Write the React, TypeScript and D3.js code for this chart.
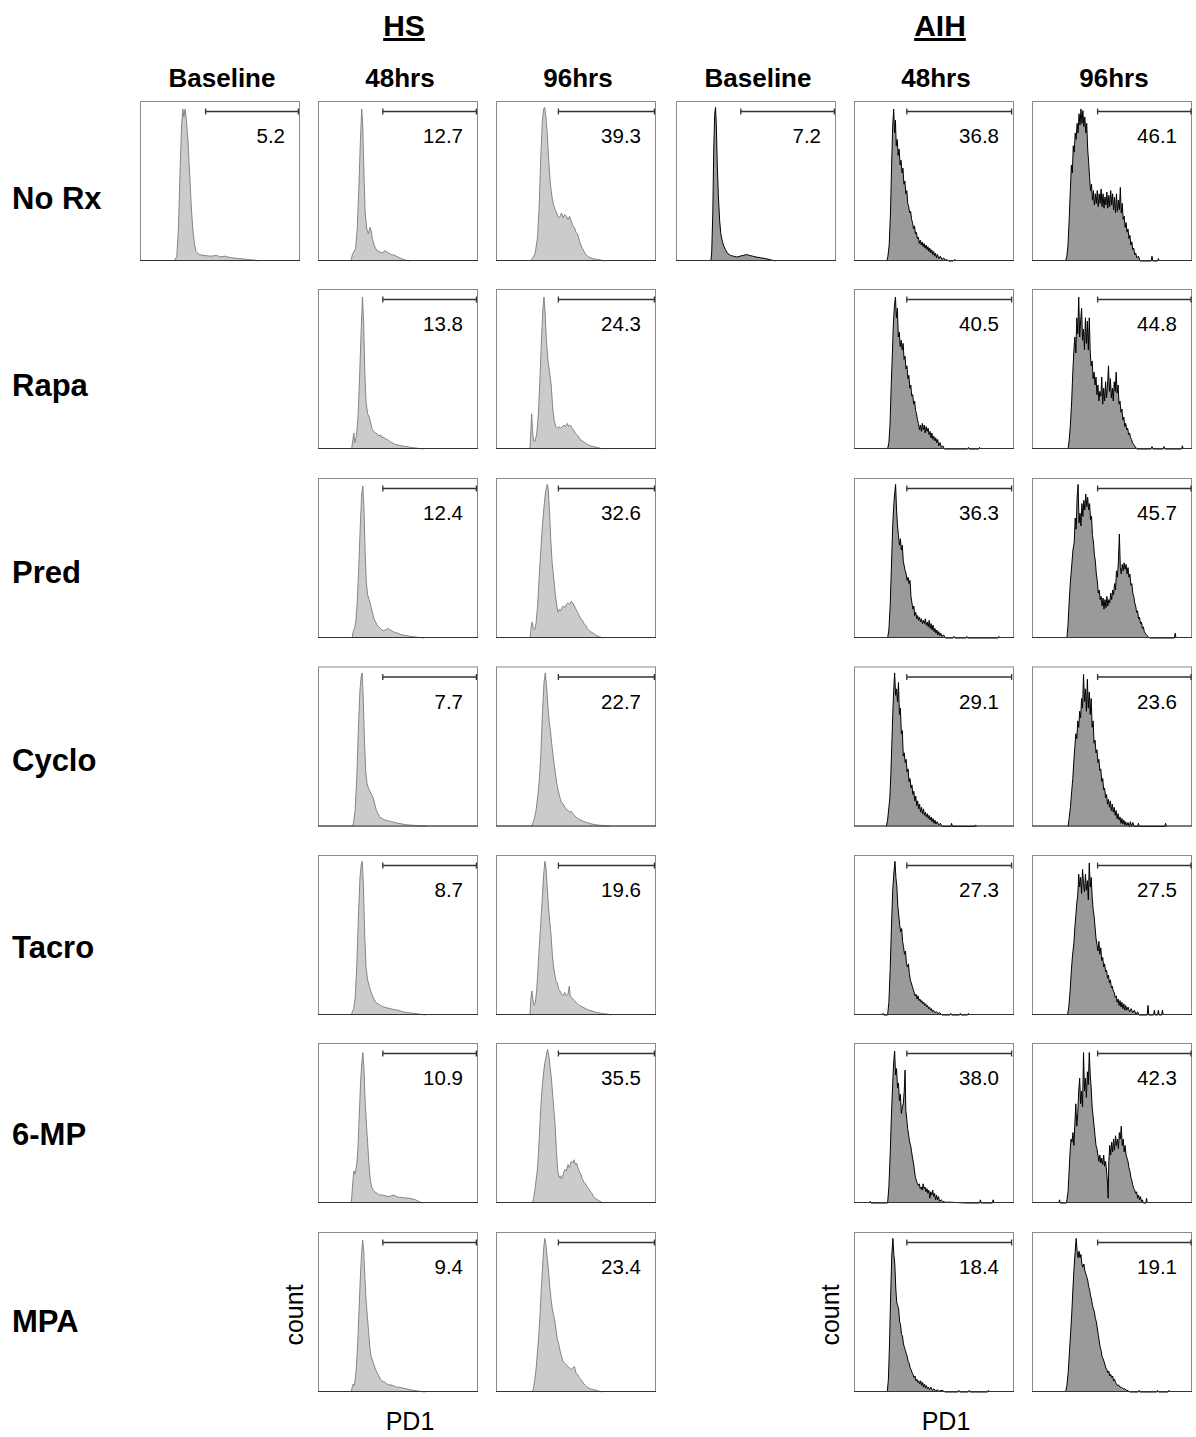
import React from 'react';
import * as d3 from 'd3';

type Pt = [number, number];

// ---- labels ----
const groupLabels = ['HS', 'AIH'];
const timeLabels = ['Baseline', '48hrs', '96hrs'];
const treatmentLabels = ['No Rx', 'Rapa', 'Pred', 'Cyclo', 'Tacro', '6-MP', 'MPA'];

// gate limits on the PD1 axis (0-100 of panel width), per column
const gateLo = [41, 40.5, 39, 40.5, 33, 41];
const gateHi = [99, 99, 99, 99, 98.5, 99.4];

// % PD1+ per treatment row; columns HS base/48/96, AIH base/48/96
const pctPositive: (string | null)[][] = [
  ['5.2', '12.7', '39.3', '7.2', '36.8', '46.1'],
  [null, '13.8', '24.3', null, '40.5', '44.8'],
  [null, '12.4', '32.6', null, '36.3', '45.7'],
  [null, '7.7', '22.7', null, '29.1', '23.6'],
  [null, '8.7', '19.6', null, '27.3', '27.5'],
  [null, '10.9', '35.5', null, '38.0', '42.3'],
  [null, '9.4', '23.4', null, '18.4', '19.1'],
];

// ---- histogram traces, [PD1 %, count %] ----
const hsBase: Pt[] = [[21.5,0],[23,3],[24,20],[25,55],[26,85],[26.8,95],[27.4,90],[28.2,95],[29,88],[30,75],[31,55],[32,35],[33,20],[34,11],[35,6],[37,4],[40,3.5],[44,3],[48,3.5],[50,2.5],[53,3],[57,2],[62,1.5],[67,1],[72,0.5],[74,0]];
const hs48NoRx: Pt[] = [[20.5,0],[21.5,4],[22.5,6],[23.5,8],[24.5,20],[25.5,45],[26.5,75],[27.3,95],[28,85],[28.7,55],[29.5,30],[30.5,20],[31.5,17],[32.5,21],[33.2,19],[34,14],[35,10],[36.5,7],[38,6],[40,5],[42,6.5],[44,5],[46,4],[48,3.5],[50,2.5],[52,1.5],[54,0.8],[56,0.3],[57,0]];
const hs96NoRx: Pt[] = [[21.5,0],[23,2],[24.5,5],[26,15],[27,35],[28,65],[29,88],[29.8,95],[30.5,96],[31.2,90],[32,80],[33,62],[34,48],[35,40],[36,35],[37,32],[38,30],[39,27],[40,28],[41,30],[42,27],[43,29],[44,28],[45,26],[46,28],[47,25],[48,22],[49,21],[50,18],[51,17],[52,13],[53,10],[54,8],[55,6],[56,4],[58,2.5],[60,1.5],[63,1],[66,0.5],[68,0]];
const aihBase: Pt[] = [[21.8,0],[22.3,5],[23,30],[23.6,70],[24.2,92],[24.7,96],[25.2,85],[25.8,60],[26.5,40],[27.3,25],[28,17],[29,12],[30,9],[31,7],[32,5],[34,3.5],[36,3],[38,2.5],[40,3],[42,3.5],[44,4],[46,3.5],[48,3],[50,2.5],[53,2],[56,1.5],[59,0.8],[61,0.3],[62,0]];
const aih48NoRx: Pt[] = [[20.5,0],[21.2,3],[22,10],[22.8,30],[23.5,60],[24.2,85],[24.8,95],[25.4,80],[25.9,88],[26.4,72],[27,76],[27.6,66],[28.2,70],[28.8,60],[29.4,63],[30,55],[30.6,58],[31.2,48],[31.8,50],[32.4,42],[33,44],[33.6,36],[34.2,34],[34.8,30],[35.4,31],[36,26],[36.6,24],[37.2,20],[37.8,22],[38.4,17],[39,18],[39.6,14],[40.2,15],[40.8,11],[41.4,13],[42,10],[42.6,12],[43.2,9],[43.8,11],[44.4,8],[45,10],[45.6,7],[46.2,9],[46.8,6],[47.4,8],[48,5],[48.6,7],[49.2,4],[49.8,6],[50.4,3],[51,5],[51.6,2],[52.2,4],[53,1.5],[54,3],[55,1],[56,2],[57,0.5],[58,1],[59,0],[62,0],[63,1],[64,0]];
const aih96NoRx: Pt[] = [[21,0],[21.8,3],[22.5,10],[23.2,25],[24,45],[24.6,60],[25.2,55],[25.8,72],[26.4,68],[27,80],[27.6,76],[28.2,86],[28.8,80],[29.4,92],[30,85],[30.6,95],[31.2,86],[31.8,94],[32.4,84],[33,90],[33.6,80],[34.2,86],[34.8,70],[35.4,62],[36,52],[36.6,44],[37.2,48],[37.8,38],[38.4,44],[39,35],[39.6,42],[40.2,36],[40.8,44],[41.4,34],[42,42],[42.6,36],[43.2,45],[43.8,34],[44.4,42],[45,33],[45.6,40],[46.2,35],[46.8,43],[47.4,33],[48,41],[48.6,34],[49.2,44],[49.8,35],[50.4,42],[51,32],[51.6,40],[52.2,30],[52.8,42],[53.4,31],[54,38],[54.6,32],[55.2,46],[55.8,30],[56.4,36],[57,26],[57.6,28],[58.2,21],[58.8,24],[59.4,18],[60,20],[60.6,14],[61.2,16],[61.8,10],[62.4,12],[63,7],[63.6,8],[64.2,4],[64.8,5],[65.5,2],[66.5,3],[67.5,0],[74.5,0],[75,3],[75.5,0],[78.5,0],[79,1.5],[79.5,0]];

const hs48Rapa: Pt[] = [[21,0],[21.8,6],[22.4,10],[23,4],[24,8],[25,20],[26,45],[27,75],[27.8,95],[28.5,80],[29.2,50],[30,30],[31,22],[32,20],[33,16],[34,12],[35,11],[36,10],[37,9.5],[38,8],[39,9],[40,7],[41,7.5],[42,6.5],[43,6],[44,5.5],[45,4.5],[46,4],[48,3],[50,2.5],[52,2],[55,1.5],[58,1],[62,0.5],[66,0]];
const hs96Rapa: Pt[] = [[21.2,0],[21.8,12],[22.3,22],[22.8,12],[23.5,5],[24.5,5],[25.5,10],[26.5,22],[27.5,45],[28.5,70],[29.3,88],[30,95],[30.7,85],[31.5,68],[32.5,55],[33.5,48],[34.5,40],[35.5,25],[36.5,17],[37.5,14],[38.5,13],[39.5,14],[40.5,13],[41.5,14],[42.5,15],[43.5,14],[44.5,16],[45.5,14],[46.5,15],[47.5,13],[48.5,12],[49.5,10],[50.5,9],[51.5,8],[52.5,6],[54,5],[55.5,4],[57,3],[59,2],[61,1.5],[64,0.8],[67,0]];
const aih48Rapa: Pt[] = [[21,0],[21.8,4],[22.5,15],[23.2,38],[24,60],[24.6,78],[25.3,90],[25.9,95],[26.5,82],[27.1,88],[27.7,70],[28.3,73],[28.9,64],[29.5,68],[30.1,62],[30.7,66],[31.3,56],[31.9,58],[32.5,50],[33.1,52],[33.7,44],[34.3,46],[34.9,38],[35.5,40],[36.1,33],[36.7,34],[37.3,28],[37.9,30],[38.5,24],[39.1,22],[39.7,18],[40.3,16],[40.9,12],[41.5,15],[42.1,11],[42.7,16],[43.3,12],[43.9,15],[44.5,10],[45.1,14],[45.7,11],[46.3,13],[46.9,9],[47.5,11],[48.1,7],[48.7,10],[49.3,6],[49.9,8],[50.5,5],[51.1,7],[51.7,4],[52.3,6],[53,2],[53.8,4],[54.6,1],[55.5,2],[56.5,0],[71,0],[71.5,1],[72,0],[78,0],[78.5,1],[79,0]];
const aih96Rapa: Pt[] = [[22.5,0],[23.2,5],[24,15],[24.8,30],[25.5,48],[26.2,62],[26.8,70],[27.4,60],[28,82],[28.6,72],[29.2,95],[29.8,70],[30.4,80],[31,88],[31.6,68],[32.2,75],[32.8,62],[33.4,82],[34,66],[34.6,80],[35.2,62],[35.8,82],[36.4,60],[37,52],[37.6,55],[38.2,44],[38.8,48],[39.4,40],[40,45],[40.6,34],[41.2,40],[41.8,30],[42.4,36],[43,33],[43.6,45],[44.2,28],[44.8,38],[45.4,30],[46,42],[46.6,32],[47.2,40],[47.8,52],[48.4,36],[49,44],[49.6,32],[50.2,38],[50.8,30],[51.4,42],[52,36],[52.6,48],[53.2,35],[53.8,40],[54.4,28],[55,30],[55.6,23],[56.2,25],[56.8,18],[57.4,20],[58,14],[58.6,16],[59.2,12],[59.8,13],[60.4,9],[61,10],[61.6,7],[62.2,6],[62.8,4],[63.4,3],[64.5,1.5],[65.5,0],[74.5,0],[75,1.5],[75.5,0],[82,0],[82.5,1.5],[83,0],[93.5,0],[94,2],[94.5,0]];

const hs48Pred: Pt[] = [[21.3,0],[22,4],[22.8,6],[23.6,10],[24.5,22],[25.5,45],[26.5,72],[27.3,90],[28,95],[28.7,82],[29.4,55],[30.2,35],[31,27],[32,24],[33,20],[34,16],[35,12],[36,10],[37,8],[38,7],[39,6],[40,5],[41,4.5],[42,5],[43,5.5],[44,6],[45,5],[46,4.5],[47,4],[48,3.5],[50,3],[52,2],[55,1.5],[58,1],[62,0.5],[66,0]];
const hs96Pred: Pt[] = [[21.3,0],[22,7],[22.6,10],[23.3,6],[24.2,5],[25,9],[26,20],[27,38],[28,55],[29,70],[30,82],[30.8,90],[31.5,94],[32,96],[32.7,93],[33.4,80],[34.2,62],[35,48],[36,38],[37,28],[38,20],[38.8,16],[39.6,18],[40.4,17],[41.2,19],[42,20],[43,19],[44,21],[45,22],[46,21],[47,23],[48,22],[49,20],[50,18],[51,16],[52,14],[53,12],[54,11],[55,9],[56,8],[57,6],[58,5],[59,4],[60,3.5],[62,2],[64,1],[67,0]];
const aih48Pred: Pt[] = [[21,0],[21.8,5],[22.6,20],[23.4,45],[24.2,70],[24.8,82],[25.4,90],[26,96],[26.6,80],[27.2,70],[27.8,64],[28.4,58],[29,62],[29.6,55],[30.2,58],[30.8,48],[31.4,45],[32,42],[32.6,40],[33.2,36],[33.8,38],[34.4,34],[35,36],[35.6,26],[36.2,22],[36.8,18],[37.4,20],[38,14],[38.6,16],[39.2,12],[39.8,14],[40.4,11],[41,13],[41.6,10],[42.2,12],[42.8,9],[43.4,11],[44,9],[44.6,12],[45.2,8],[45.8,10],[46.4,7],[47,11],[47.6,6],[48.2,9],[48.8,5],[49.4,8],[50,4],[50.6,6],[51.2,3],[51.8,5],[52.4,2],[53,4],[53.6,1.5],[54.2,3],[55,1],[56,2],[57,0],[62,0],[62.5,1],[63,0],[70,0],[70.5,1],[71,0],[90,0],[90.5,1],[91,0]];
const aih96Pred: Pt[] = [[21.8,0],[22.5,8],[23.2,22],[24,35],[24.8,45],[25.6,55],[26.4,60],[27,75],[27.6,68],[28.2,88],[28.8,96],[29.4,72],[30,78],[30.6,70],[31.2,84],[31.8,76],[32.4,86],[33,80],[33.6,90],[34.2,82],[34.8,88],[35.4,80],[36,84],[36.6,74],[37.2,76],[37.8,64],[38.4,60],[39,52],[39.6,48],[40.2,40],[40.8,36],[41.4,28],[42,30],[42.6,24],[43.2,26],[43.8,20],[44.4,25],[45,18],[45.6,24],[46.2,19],[46.8,26],[47.4,20],[48,24],[48.6,22],[49.2,28],[49.8,24],[50.4,30],[51,27],[51.6,34],[52.2,30],[52.8,42],[53.4,38],[54,48],[54.6,65],[55.2,44],[55.8,40],[56.4,46],[57,42],[57.6,47],[58.2,43],[58.8,46],[59.4,40],[60,44],[60.6,38],[61.2,40],[61.8,33],[62.4,34],[63,28],[63.6,26],[64.2,22],[64.8,20],[65.4,16],[66,17],[66.6,12],[67.2,13],[67.8,9],[68.4,10],[69,6],[69.6,7],[70.2,4],[70.8,3],[71.5,2],[72.5,1],[73.5,0],[89,0],[89.5,3],[90,0]];

const hs48Cyclo: Pt[] = [[21.5,0],[22.3,3],[23.2,10],[24.2,30],[25.2,60],[26.2,85],[27,94],[27.6,96],[28.3,80],[29,55],[29.8,35],[30.6,27],[31.5,24],[32.5,22],[33.5,20],[34.5,18],[35.5,14],[36.5,10],[37.5,8],[38.5,6],[40,5],[42,4],[44,3.5],[46,3],[48,2.5],[50,2],[53,1.5],[56,1],[60,0.7],[65,0.3],[68,0]];
const hs96Cyclo: Pt[] = [[22.3,0],[23,2],[24,5],[25,10],[26,18],[27,28],[28,45],[29,70],[30,90],[30.8,96],[31.6,88],[32.4,76],[33.2,66],[34,60],[34.8,52],[35.5,46],[36.2,40],[37,34],[38,27],[39,22],[40,18],[41,15],[42,14],[43,12],[44,11],[45,10],[46,9],[47,9.5],[48,8],[49,7],[50,6],[51,5],[52,4.5],[53,4],[55,3],[57,2.5],[60,1.5],[63,1],[67,0.5],[71,0]];
const aih48Cyclo: Pt[] = [[20.2,0],[21,4],[21.8,12],[22.4,18],[23,32],[23.6,50],[24.2,70],[24.8,85],[25.4,96],[26,82],[26.6,86],[27.2,78],[27.8,90],[28.4,70],[29,74],[29.6,58],[30.2,60],[30.8,44],[31.4,46],[32,40],[32.6,42],[33.2,34],[33.8,36],[34.4,28],[35,30],[35.6,24],[36.2,26],[36.8,20],[37.4,22],[38,16],[38.6,19],[39.2,13],[39.8,16],[40.4,11],[41,14],[41.6,9],[42.2,12],[42.8,8],[43.4,11],[44,7],[44.6,9],[45.2,6],[45.8,8],[46.4,5],[47,7],[47.6,4],[48.2,6],[48.8,3],[49.4,5],[50,2],[50.6,4],[51.2,1.5],[52,3],[53,1],[54,2],[55,0],[60.5,0],[61,2],[61.5,0],[75.5,0],[76,1],[76.5,0]];
const aih96Cyclo: Pt[] = [[22.5,0],[23.2,5],[24,12],[24.8,22],[25.5,30],[26.2,42],[26.8,50],[27.4,58],[28,55],[28.6,66],[29.2,62],[29.8,72],[30.4,68],[31,80],[31.6,74],[32.2,95],[32.8,78],[33.4,86],[34,72],[34.6,92],[35.2,74],[35.8,84],[36.4,70],[37,80],[37.6,62],[38.2,66],[38.8,52],[39.4,54],[40,46],[40.6,48],[41.2,40],[41.8,42],[42.4,35],[43,36],[43.6,28],[44.2,30],[44.8,23],[45.4,24],[46,18],[46.6,20],[47.2,14],[47.8,17],[48.4,12],[49,16],[49.6,10],[50.2,14],[50.8,9],[51.4,12],[52,7],[52.6,10],[53.2,5],[53.8,8],[54.4,4],[55,6],[55.6,2],[56.2,5],[56.8,1.5],[57.4,4],[58,1],[58.6,3],[59.2,0.5],[60,2.5],[60.8,0],[61.5,3],[62.2,0],[63,2.5],[63.8,0],[66,0],[66.5,2],[67,0],[83,0],[83.5,2],[84,0]];

const hs48Tacro: Pt[] = [[20.8,0],[21.5,2],[22.3,4],[23.2,10],[24.2,30],[25.2,60],[26.2,85],[27,94],[27.7,96],[28.4,80],[29.2,50],[30,30],[31,22],[32,18],[33,15],[34,12],[35,10],[36,8],[37.5,7],[39,6],[41,5],[43,4.5],[45,4],[47,3.5],[50,3],[53,2],[56,1.5],[60,1],[64,0.5],[67,0]];
const hs96Tacro: Pt[] = [[21.2,0],[21.8,10],[22.4,15],[23,10],[23.8,6],[24.6,8],[25.4,15],[26.2,28],[27,42],[28,58],[29,74],[29.8,88],[30.6,96],[31.3,92],[32,80],[32.8,68],[33.6,58],[34.4,50],[35.2,38],[36,30],[36.8,25],[37.6,21],[38.4,20],[39.2,16],[40,15],[41,13],[42,12],[43,14],[44,12],[45,13],[45.8,18],[46.4,12],[47.2,11],[48,10],[49,9],[50,8],[51,7],[52,6],[53,5.5],[54,5],[56,4],[58,3],[60,2.5],[63,1.5],[66,1],[70,0.5],[72,0]];
const aih48Tacro: Pt[] = [[17.8,0],[18.2,1],[18.6,0],[21,0],[21.8,8],[22.6,28],[23.4,55],[24.2,78],[25,90],[25.6,96],[26.2,86],[26.8,80],[27.4,68],[28,62],[28.6,56],[29.2,52],[29.8,54],[30.4,46],[31,42],[31.6,38],[32.2,40],[32.8,32],[33.4,30],[34,32],[34.6,26],[35.2,22],[35.8,20],[36.4,18],[37,16],[37.6,14],[38.2,12],[38.8,13],[39.4,10],[40,12],[40.6,9],[41.2,10],[41.8,8],[42.4,9],[43,7],[43.6,8],[44.2,6],[44.8,7],[45.4,5],[46,6],[46.6,4],[47.2,5],[47.8,3],[48.4,4],[49,2],[49.6,3],[50.5,1.5],[51.5,2],[52.5,1],[53.5,1.5],[55,0],[60,0],[60.5,1],[61,0],[66,0],[66.5,1],[67,0],[71,0],[71.5,1],[72,0]];
const aih96Tacro: Pt[] = [[22.2,0],[23,5],[23.8,15],[24.6,28],[25.4,38],[26.2,45],[26.8,55],[27.4,62],[28,70],[28.6,75],[29.2,88],[29.8,80],[30.4,86],[31,76],[31.6,91],[32.2,82],[32.8,77],[33.4,88],[34,78],[34.6,84],[35.2,72],[35.8,95],[36.4,80],[37,86],[37.6,74],[38.2,66],[38.8,62],[39.4,55],[40,48],[40.6,44],[41.2,40],[41.8,46],[42.4,38],[43,42],[43.6,34],[44.2,36],[44.8,30],[45.4,32],[46,27],[46.6,28],[47.2,23],[47.8,25],[48.4,20],[49,22],[49.6,17],[50.2,18],[50.8,15],[51.4,14],[52,11],[52.6,12],[53.2,8],[53.8,10],[54.4,6],[55,9],[55.6,5],[56.2,8],[56.8,4],[57.4,7],[58,3],[58.6,6],[59.2,3],[60,5],[61,2],[62,4],[63,1.5],[64,3],[65,0.5],[66,2],[67,0],[72,0],[72.5,6],[73,0],[76,0],[76.5,3],[77,0],[78.5,0],[79,3],[79.5,0],[81,0],[81.5,3],[82,0]];

const hs486MP: Pt[] = [[20.8,0],[21.4,8],[22,16],[22.5,20],[23,18],[23.6,20],[24.3,25],[25,35],[25.8,55],[26.6,75],[27.4,88],[28,94],[28.7,85],[29.4,65],[30.2,50],[31,38],[31.8,25],[32.6,15],[33.5,10],[34.5,8],[35.5,7],[37,6],[38.5,5],[40,5],[42,4.5],[44,4],[46,4.5],[47.5,5],[49,4],[51,3.5],[53,3.5],[55,3],[57,3],[59,2.5],[61,2],[63,1],[65,0]];
const hs966MP: Pt[] = [[22.8,0],[23.5,3],[24.3,8],[25,14],[25.8,20],[26.6,32],[27.4,48],[28.2,63],[29,74],[29.8,82],[30.6,88],[31.4,92],[32.2,96],[33,92],[33.8,85],[34.6,78],[35.4,68],[36.2,58],[37,48],[37.8,32],[38.6,20],[39.4,16],[40.2,17],[41,15],[42,18],[43,21],[44,20],[45,24],[46,22],[47,26],[48,25],[48.8,27],[49.6,24],[50.4,25],[51.2,22],[52,20],[53,18],[54,15],[55,13],[56,12],[57,10],[58,9],[59,7],[60,6],[61,4],[62,3],[63.5,2],[65,1],[67,0]];
const aih486MP: Pt[] = [[9.8,0],[10.2,1],[10.6,0],[21,0],[21.8,10],[22.6,30],[23.4,55],[24.2,75],[24.8,88],[25.4,95],[26,80],[26.6,84],[27.2,72],[27.8,75],[28.4,64],[29,68],[29.6,56],[30.2,60],[30.8,62],[31.4,70],[31.9,83],[32.4,58],[33,52],[33.6,46],[34.2,42],[34.8,38],[35.4,36],[36,32],[36.6,28],[37.2,25],[37.8,20],[38.4,16],[39,14],[39.6,12],[40.2,11],[40.8,12],[41.4,9],[42,10],[42.6,8],[43.2,12],[43.8,9],[44.4,10],[45,7],[45.6,9],[46.2,6],[46.8,8],[47.4,3],[48,7],[48.6,5],[49.2,8],[49.8,4],[50.4,6],[51,2],[51.6,5],[52.2,2],[52.8,4],[53.5,1],[54.5,2],[55.5,1],[57,0.5],[60,0.5],[64,0.3],[70,0],[78.5,0],[79,2],[79.5,0],[86.5,0],[87,2],[87.5,0]];
const aih966MP: Pt[] = [[16.8,0],[17.2,2],[17.6,0],[21.5,0],[22,3],[22.6,8],[23.2,20],[23.8,32],[24.4,40],[25,38],[25.6,44],[26.2,36],[26.8,50],[27.4,62],[28,48],[28.6,56],[29.2,70],[29.8,78],[30.4,62],[31,70],[31.6,60],[32.2,94],[32.8,70],[33.4,78],[34,66],[34.6,82],[35.2,74],[35.8,94],[36.4,80],[37,72],[37.6,60],[38.2,54],[38.8,48],[39.4,42],[40,36],[40.6,34],[41.2,30],[41.8,26],[42.4,30],[43,25],[43.6,28],[44.2,24],[44.8,30],[45.4,23],[46,26],[46.6,20],[47.2,12],[47.6,3],[48,26],[48.6,36],[49.2,30],[49.8,38],[50.4,32],[51,40],[51.6,33],[52.2,42],[52.8,36],[53.4,40],[54,34],[54.6,44],[55.2,40],[55.8,48],[56.4,36],[57,40],[57.6,32],[58.2,36],[58.8,30],[59.4,28],[60,26],[60.6,22],[61.2,20],[61.8,16],[62.4,14],[63,11],[63.6,9],[64.2,8],[64.8,6],[65.4,7],[66,3],[66.6,5],[67.2,2],[67.8,4],[68.4,1],[69,2],[69.6,0],[71.2,0],[71.6,3],[72,0]];

const hs48MPA: Pt[] = [[20.8,0],[21.4,3],[22,5],[22.6,4],[23.3,8],[24,16],[24.8,30],[25.6,50],[26.4,70],[27.2,86],[27.9,95],[28.6,88],[29.3,72],[30,58],[30.8,48],[31.6,38],[32.4,28],[33.2,22],[34,20],[35,17],[36,14],[37,12],[38,10],[39,8],[40,7],[41,6.5],[42,6],[43,5],[44,4.5],[45,4.5],[47,4],[49,3],[51,3],[53,2.5],[55,2],[57,1.5],[60,1],[63,0.5],[67,0]];
const hs96MPA: Pt[] = [[22.8,0],[23.5,3],[24.3,8],[25.1,15],[25.9,25],[26.7,35],[27.5,48],[28.3,64],[29.1,78],[29.8,90],[30.5,96],[31.2,92],[32,84],[32.8,76],[33.6,66],[34.4,58],[35.2,52],[36,48],[36.8,44],[37.6,38],[38.4,33],[39.2,30],[40,26],[41,22],[42,19],[43,18],[44,17],[45,16],[46,15],[47,14],[48,15],[49,16],[50,12],[51,11],[52,9],[53,8],[54,6.5],[55,5],[56,4],[57,3],[59,2],[61,1.5],[63,1],[66,0]];
const aih48MPA: Pt[] = [[20.8,0],[21.5,8],[22.2,30],[22.9,60],[23.6,85],[24.3,96],[24.9,86],[25.5,80],[26.1,65],[26.7,56],[27.3,54],[27.9,52],[28.5,44],[29.1,42],[29.7,36],[30.3,35],[30.9,30],[31.5,28],[32.1,26],[32.7,24],[33.3,22],[33.9,19],[34.5,18],[35.1,15],[35.7,14],[36.3,12],[36.9,11],[37.5,9],[38.1,10],[38.7,7],[39.3,8],[39.9,6],[40.5,7],[41.1,5],[41.7,7],[42.3,4],[42.9,6],[43.5,3],[44.1,5],[44.7,2.5],[45.3,4],[45.9,2],[46.5,3],[47.2,1.5],[48,3],[49,1],[50,2],[51,0.5],[52,1.5],[53,0.5],[55,1],[57,0],[65,0],[65.5,1],[66,0],[71.5,0],[72,1],[72.5,0],[83.5,0],[84,1],[84.5,0]];
const aih96MPA: Pt[] = [[21,0],[21.8,4],[22.6,12],[23.4,25],[24.2,38],[24.9,50],[25.6,65],[26.3,78],[27,88],[27.6,96],[28.2,88],[28.8,84],[29.4,88],[30,84],[30.6,86],[31.2,80],[31.8,78],[32.4,80],[33,76],[33.6,74],[34.2,72],[34.8,70],[35.4,66],[36,64],[36.6,60],[37.2,58],[37.8,54],[38.4,52],[39,50],[39.6,46],[40.2,44],[40.8,40],[41.4,36],[42,32],[42.6,28],[43.2,26],[43.8,22],[44.4,21],[45,19],[45.6,17],[46.2,15],[46.8,14],[47.4,12],[48,13],[48.6,10],[49.2,11],[49.8,9],[50.4,10],[51,7],[51.6,8],[52.2,6],[52.8,5],[53.4,4],[54,4.5],[55,3],[56,3],[57,2],[58,2],[59,1],[60,1],[61,0],[66.5,0],[67,1],[67.5,0],[78,0],[78.5,1],[79,0],[85,0],[85.5,1],[86,0]];

// rows = treatments, cols = HS base/48/96, AIH base/48/96
const traces: (Pt[] | null)[][] = [
  [hsBase, hs48NoRx, hs96NoRx, aihBase, aih48NoRx, aih96NoRx],
  [null, hs48Rapa, hs96Rapa, null, aih48Rapa, aih96Rapa],
  [null, hs48Pred, hs96Pred, null, aih48Pred, aih96Pred],
  [null, hs48Cyclo, hs96Cyclo, null, aih48Cyclo, aih96Cyclo],
  [null, hs48Tacro, hs96Tacro, null, aih48Tacro, aih96Tacro],
  [null, hs486MP, hs966MP, null, aih486MP, aih966MP],
  [null, hs48MPA, hs96MPA, null, aih48MPA, aih96MPA],
];

// ---- layout ----
const W = 1196;
const H = 1437;
const P = 160; // panel size
const colX = [140, 318, 496, 676, 854, 1032];
const rowY = [101, 289, 478, 666.5, 855, 1043, 1232];
const FONT = 'Arial, "Liberation Sans", Helvetica, sans-serif';

const x = d3.scaleLinear().domain([0, 100]).range([0, P]);
const y = d3.scaleLinear().domain([0, 100]).range([P, 0]);
const areaGen = d3.area<Pt>().x(d => x(d[0])).y0(P).y1(d => y(d[1])).curve(d3.curveLinear);
const lineGen = d3.line<Pt>().x(d => x(d[0])).y(d => y(d[1])).curve(d3.curveLinear);

const Panel: React.FC<{ col: number; row: number; data: Pt[]; value: string }> = ({ col, row, data, value }) => {
  const aih = col >= 3;
  const gy = 10.5;
  return (
    <g transform={`translate(${colX[col]},${rowY[row]})`}>
      <rect x={0.5} y={0.5} width={P - 1} height={P - 1} fill="#fff" stroke="#8a8a8a" strokeWidth={1} />
      <path d={areaGen(data) ?? ''} fill={aih ? '#9a9a9a' : '#cbcbcb'} />
      <path d={lineGen(data) ?? ''} fill="none" stroke={aih ? '#000' : '#7a7a7a'} strokeWidth={aih ? 1 : 0.9} strokeLinejoin="round" />
      <line x1={0} x2={P} y1={P - 0.5} y2={P - 0.5} stroke="#333" strokeWidth={1} />
      <line x1={x(gateLo[col])} x2={x(gateHi[col])} y1={gy} y2={gy} stroke="#333" strokeWidth={1.5} />
      <line x1={x(gateLo[col])} x2={x(gateLo[col])} y1={gy - 3} y2={gy + 3} stroke="#333" strokeWidth={1.3} />
      <line x1={x(gateHi[col])} x2={x(gateHi[col])} y1={gy - 3} y2={gy + 3} stroke="#333" strokeWidth={1.3} />
      <text x={145} y={42} textAnchor="end" fontFamily={FONT} fontSize={20.5} fill="#000">{value}</text>
    </g>
  );
};

export default function App() {
  const groupCenters = [404, 940];
  return (
    <svg width={W} height={H} style={{ position: 'absolute', left: 0, top: 0, display: 'block', background: '#fff' }}>
      <rect width={W} height={H} fill="#fff" />
      {groupLabels.map((g, i) => (
        <text key={g} x={groupCenters[i]} y={36} textAnchor="middle" fontFamily={FONT} fontSize={30} fontWeight="bold" textDecoration="underline">{g}</text>
      ))}
      {colX.map((cx, c) => (
        <text key={c} x={cx + P / 2 + 2} y={87} textAnchor="middle" fontFamily={FONT} fontSize={26} fontWeight="bold">{timeLabels[c % 3]}</text>
      ))}
      {treatmentLabels.map((t, r) => (
        <text key={t} x={12} y={209 + r * 187.2} fontFamily={FONT} fontSize={31} fontWeight="bold">{t}</text>
      ))}
      {traces.map((row, r) => row.map((data, c) => data && (
        <Panel key={`${r}-${c}`} col={c} row={r} data={data} value={pctPositive[r][c] ?? ''} />
      )))}
      {[colX[1], colX[4]].map((cx, i) => (
        <g key={i}>
          <text transform={`translate(${cx - 15},${rowY[6] + 83}) rotate(-90)`} textAnchor="middle" fontFamily={FONT} fontSize={25}>count</text>
          <text x={cx + P / 2 + 12} y={1430} textAnchor="middle" fontFamily={FONT} fontSize={25}>PD1</text>
        </g>
      ))}
    </svg>
  );
}
